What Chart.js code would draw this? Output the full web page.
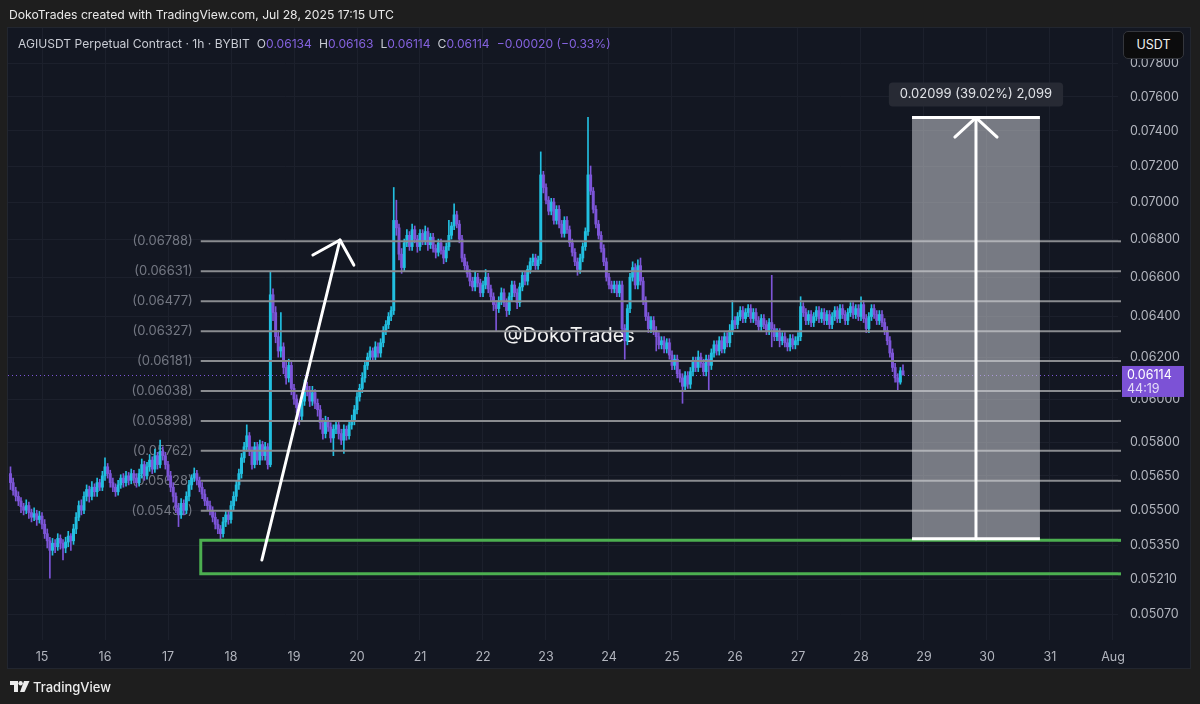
<!DOCTYPE html>
<html>
<head>
<meta charset="utf-8">
<script src="https://cdn.jsdelivr.net/npm/chart.js@4.4.1/dist/chart.umd.min.js"></script>
<style>
  html, body { margin: 0; padding: 0; background: #1e1e1e; }
  body { width: 1200px; height: 704px; position: relative; overflow: hidden; font-family: Inter, "Noto Sans", sans-serif; }
  #chart { position: absolute; left: 0; top: 0; }
  #credit { position: absolute; left: 9px; top: 7px; color: #e8e8e8; font-size: 12.2px; line-height: 16px; white-space: nowrap; }
  #legend { position: absolute; left: 18px; top: 36px; color: #c9ccd4; font-size: 12.1px; line-height: 15px; white-space: nowrap; }
  #legend .v { color: #8462de; }
  #legend .gap { display: inline-block; width: 7px; }
  #unit { position: absolute; left: 1123px; top: 31px; width: 61px; height: 28px; background: #0c0c0d; border: 1px solid #34363c;
          border-radius: 5px; box-sizing: border-box; color: #f0f0f0; font-size: 12.5px; line-height: 26px; text-align: center; }
  #brand { position: absolute; left: 10px; top: 679px; color: #ececec; font-size: 13px; font-weight: 500; line-height: 16px; white-space: nowrap; }
  #brand svg { vertical-align: -1px; margin-right: 3px; }
</style>
</head>
<body>
<canvas id="chart" width="1200" height="704"></canvas>
<div id="credit">DokoTrades created with TradingView.com, Jul 28, 2025 17:15 UTC</div>
<div id="legend"></div>
<div id="unit">USDT</div>
<div id="brand"><svg width="20" height="12" viewBox="0 0 20 12"><path d="M0 0h8v11h-4v-7h-4z" fill="#ececec"/><circle cx="10.6" cy="2.2" r="2.2" fill="#ececec"/><path d="M14 0h5.5l-5 11h-4.5z" fill="#ececec"/></svg>TradingView</div>
<script>
// AGIUSDT, 1h candles from 14 Jul 12:00 UTC, prices in 0.00001 USDT
const pairName = 'AGIUSDT Perpetual Contract';
const interval = '1h';
const exchange = 'BYBIT';
const firstCandleDay = 14.5;

const opens = [
  5660,5620,5585,5560,5540,5515,5500,5520,5490,5470,5485,5460,
  5475,5440,5400,5370,5330,5360,5345,5380,5360,5340,5365,5390,
  5370,5420,5470,5520,5500,5560,5590,5560,5600,5580,5620,5600,
  5650,5690,5660,5620,5600,5580,5610,5640,5620,5650,5630,5660,
  5640,5620,5660,5700,5650,5690,5720,5680,5740,5700,5760,5740,
  5700,5650,5600,5560,5510,5480,5530,5500,5560,5610,5640,5660,
  5630,5600,5570,5540,5520,5500,5470,5440,5420,5400,5450,5480,
  5460,5520,5560,5610,5660,5730,5780,5830,5760,5700,5780,5720,
  5790,5740,5780,5700,6510,6420,6300,6230,6250,6150,6100,6160,
  6050,6000,5960,5920,5990,6060,6040,5990,6030,5980,5950,5890,
  5840,5900,5870,5820,5860,5880,5840,5810,5860,5830,5880,5900,
  5950,6010,6050,6100,6160,6200,6230,6200,6250,6220,6270,6330,
  6360,6400,6430,6900,6860,6720,6650,6780,6820,6760,6850,6800,
  6760,6830,6790,6840,6770,6810,6750,6730,6780,6740,6700,6760,
  6820,6870,6930,6880,6800,6700,6660,6620,6580,6550,6600,6570,
  6520,6560,6600,6540,6500,6460,6440,6480,6520,6470,6430,6500,
  6560,6520,6470,6550,6610,6580,6640,6680,6700,6660,6690,7150,
  7080,7010,6950,7000,6900,6960,6880,6830,6900,6850,6780,6730,
  6680,6640,6700,6760,6840,7150,7060,6960,6880,6820,6750,6680,
  6600,6560,6540,6560,6520,6560,6340,6280,6440,6600,6650,6560,
  6660,6580,6480,6400,6340,6380,6330,6300,6260,6280,6240,6270,
  6210,6160,6190,6120,6100,6060,6110,6070,6130,6180,6150,6200,
  6170,6130,6190,6160,6220,6260,6230,6280,6240,6300,6270,6330,
  6380,6360,6400,6430,6390,6420,6440,6390,6420,6380,6350,6390,
  6360,6330,6370,6340,6300,6320,6280,6300,6270,6250,6290,6260,
  6280,6300,6450,6420,6380,6410,6370,6400,6430,6390,6420,6380,
  6410,6360,6400,6430,6390,6440,6410,6380,6420,6450,6410,6440,
  6400,6460,6390,6340,6400,6440,6410,6380,6410,6370,6330,6280,
  6220,6150,6100,6080,6134
];
const highs = [
  5690,5640,5600,5580,5555,5530,5545,5535,5505,5510,5500,5495,
  5490,5460,5420,5385,5380,5375,5400,5395,5375,5385,5410,5400,
  5440,5490,5540,5545,5580,5610,5605,5625,5615,5640,5635,5670,
  5730,5705,5675,5640,5615,5630,5655,5660,5670,5665,5680,5675,
  5660,5680,5725,5715,5710,5745,5735,5770,5755,5810,5780,5755,
  5715,5670,5620,5575,5530,5550,5545,5580,5630,5655,5685,5675,
  5645,5620,5590,5555,5540,5515,5490,5460,5435,5470,5500,5495,
  5540,5580,5630,5680,5750,5800,5880,5845,5780,5800,5800,5810,
  5805,5800,5795,6630,6540,6450,6330,6420,6270,6180,6190,6180,
  6070,6020,5980,6010,6090,6080,6060,6060,6045,6000,5970,5910,
  5920,5915,5890,5880,5900,5895,5860,5880,5875,5900,5925,5970,
  6030,6070,6125,6180,6220,6250,6245,6275,6270,6290,6350,6380,
  6420,6450,7080,7010,6880,6750,6800,6850,6840,6880,6870,6820,
  6850,6850,6870,6860,6830,6830,6770,6800,6800,6760,6780,6900,
  6890,6990,6950,6900,6820,6720,6680,6640,6600,6630,6620,6590,
  6580,6640,6620,6560,6520,6480,6500,6545,6540,6490,6520,6580,
  6580,6540,6570,6630,6630,6660,6700,6720,6720,6710,7280,7170,
  7100,7030,7020,7020,6980,6980,6900,6920,6920,6870,6800,6750,
  6700,6720,6780,6860,7480,7200,7080,6980,6900,6840,6770,6700,
  6620,6580,6580,6580,6580,6580,6360,6460,6620,6680,6670,6690,
  6700,6600,6500,6420,6400,6400,6350,6320,6300,6300,6290,6290,
  6230,6210,6210,6140,6120,6130,6130,6150,6200,6200,6230,6220,
  6190,6210,6210,6240,6280,6280,6300,6300,6320,6320,6360,6480,
  6400,6420,6450,6450,6440,6460,6460,6440,6440,6400,6410,6410,
  6380,6390,6610,6360,6340,6340,6320,6320,6290,6310,6310,6300,
  6320,6500,6470,6440,6430,6430,6420,6450,6450,6440,6440,6430,
  6430,6420,6450,6450,6460,6460,6430,6440,6470,6470,6460,6460,
  6500,6480,6410,6420,6460,6460,6430,6430,6430,6390,6350,6300,
  6240,6170,6120,6150,6163
];
const lows = [
  5590,5565,5540,5520,5490,5480,5485,5465,5450,5455,5435,5445,
  5420,5380,5340,5215,5310,5320,5330,5335,5290,5320,5345,5330,
  5355,5400,5455,5480,5485,5540,5535,5545,5560,5560,5585,5585,
  5630,5640,5600,5580,5560,5565,5595,5600,5605,5610,5615,5620,
  5600,5605,5640,5630,5635,5670,5660,5665,5680,5685,5720,5680,
  5630,5580,5535,5490,5430,5465,5480,5485,5540,5590,5625,5610,
  5580,5550,5520,5500,5480,5450,5420,5400,5370,5385,5430,5440,
  5445,5500,5540,5590,5640,5710,5760,5740,5680,5685,5700,5700,
  5720,5720,5680,5690,6380,6270,6200,6200,6120,6070,6080,6020,
  5975,5935,5880,5900,5970,6015,5965,5970,5955,5920,5860,5815,
  5820,5850,5800,5740,5840,5815,5790,5750,5810,5815,5860,5880,
  5930,5990,6030,6080,6140,6180,6180,6180,6200,6200,6250,6310,
  6340,6380,6410,6820,6690,6620,6630,6760,6740,6740,6780,6730,
  6740,6770,6770,6740,6750,6730,6700,6710,6720,6670,6680,6740,
  6800,6850,6860,6780,6680,6640,6600,6555,6530,6530,6550,6500,
  6500,6540,6520,6480,6430,6330,6420,6460,6450,6400,6410,6480,
  6500,6440,6450,6530,6560,6560,6620,6660,6640,6640,6670,7050,
  6990,6930,6930,6880,6880,6860,6810,6810,6830,6760,6710,6660,
  6610,6620,6680,6740,6820,7040,6940,6860,6800,6730,6660,6580,
  6540,6520,6520,6500,6500,6320,6190,6260,6420,6580,6540,6540,
  6560,6460,6380,6320,6320,6310,6230,6240,6240,6220,6220,6190,
  6140,6140,6100,6080,5980,6040,6050,6050,6110,6130,6130,6150,
  6110,6110,6040,6140,6200,6210,6210,6220,6220,6250,6250,6310,
  6340,6340,6380,6370,6370,6400,6370,6370,6360,6330,6330,6340,
  6310,6310,6250,6280,6280,6250,6260,6250,6230,6230,6240,6240,
  6260,6280,6400,6360,6360,6350,6350,6380,6370,6370,6360,6360,
  6340,6340,6380,6370,6370,6390,6360,6360,6400,6390,6390,6380,
  6380,6370,6320,6320,6380,6390,6360,6360,6350,6310,6260,6200,
  6130,6080,6040,6070,6114
];
const closes = [
  5620,5585,5560,5540,5515,5500,5520,5490,5470,5485,5460,5475,
  5440,5400,5370,5330,5360,5345,5380,5360,5340,5365,5390,5370,
  5420,5470,5520,5500,5560,5590,5560,5600,5580,5620,5600,5650,
  5690,5660,5620,5600,5580,5610,5640,5620,5650,5630,5660,5640,
  5620,5660,5700,5650,5690,5720,5680,5740,5700,5760,5740,5700,
  5650,5600,5560,5510,5480,5530,5500,5560,5610,5640,5660,5630,
  5600,5570,5540,5520,5500,5470,5440,5420,5400,5450,5480,5460,
  5520,5560,5610,5660,5730,5780,5830,5760,5700,5780,5720,5790,
  5740,5780,5700,6510,6420,6300,6230,6250,6150,6100,6160,6050,
  6000,5960,5920,5990,6060,6040,5990,6030,5980,5950,5890,5840,
  5900,5870,5820,5860,5880,5840,5810,5860,5830,5880,5900,5950,
  6010,6050,6100,6160,6200,6230,6200,6250,6220,6270,6330,6360,
  6400,6430,6900,6860,6720,6650,6780,6820,6760,6850,6800,6760,
  6830,6790,6840,6770,6810,6750,6730,6780,6740,6700,6760,6820,
  6870,6930,6880,6800,6700,6660,6620,6580,6550,6600,6570,6520,
  6560,6600,6540,6500,6460,6440,6480,6520,6470,6430,6500,6560,
  6520,6470,6550,6610,6580,6640,6680,6700,6660,6690,7150,7080,
  7010,6950,7000,6900,6960,6880,6830,6900,6850,6780,6730,6680,
  6640,6700,6760,6840,7150,7060,6960,6880,6820,6750,6680,6600,
  6560,6540,6560,6520,6560,6340,6280,6440,6600,6650,6560,6660,
  6580,6480,6400,6340,6380,6330,6300,6260,6280,6240,6270,6210,
  6160,6190,6120,6100,6060,6110,6070,6130,6180,6150,6200,6170,
  6130,6190,6160,6220,6260,6230,6280,6240,6300,6270,6330,6380,
  6360,6400,6430,6390,6420,6440,6390,6420,6380,6350,6390,6360,
  6330,6370,6340,6300,6320,6280,6300,6270,6250,6290,6260,6280,
  6300,6450,6420,6380,6410,6370,6400,6430,6390,6420,6380,6410,
  6360,6400,6430,6390,6440,6410,6380,6420,6450,6410,6440,6400,
  6460,6390,6340,6400,6440,6410,6380,6410,6370,6330,6280,6220,
  6150,6100,6080,6134,6114
];

// axes
const dayTicks = [15,16,17,18,19,20,21,22,23,24,25,26,27,28,29,30,31,32];
const dayLabels = ['15','16','17','18','19','20','21','22','23','24','25','26','27','28','29','30','31','Aug'];
const viewDays = [14.4603, 32.0794];
const priceTicks = [0.078,0.076,0.074,0.072,0.070,0.068,0.066,0.064,0.062,0.060,0.058,0.0565,0.055,0.0535,0.0521,0.0507];
const viewPrice = [0.04969, 0.08021];

// drawings
const fibLevels = [0.06788,0.06631,0.06477,0.06327,0.06181,0.06038,0.05898,0.05762,0.05628,0.05498];
const fibStartDay = 17.52;
const zoneStartDay = 17.52;
const zoneTop = 0.05372;
const zoneBottom = 0.05233;
const arrowShaft = [{x: 18.49, y: 0.0529}, {x: 19.73, y: 0.06795}];
const arrowHead = [{x: 19.30, y: 0.06716}, {x: 19.73, y: 0.06795}, {x: 19.95, y: 0.06663}];
const projStartDay = 28.81;
const projEndDay = 30.84;
const projMidDay = 29.825;
const projLow = 0.05379;
const projHigh = 0.07478;
const projBarbDays = [29.49, 30.16];
const projBarbPrice = 0.07365;
const watermark = '@DokoTrades';
const watermarkAt = {x: 22.32, y: 0.06303};
const countdown = '44:19';

const UP = '#22bfe0';
const DOWN = '#7d55d8';
const unit = 1e-5;

const last = closes.length - 1;
const fmt = v => (v * unit).toFixed(5);
const minus = s => s.replace('-', '\u2212');

// legend line
const chg = closes[last] - closes[last - 1];
const pct = chg / closes[last - 1] * 100;
document.getElementById('legend').innerHTML =
  `${pairName} · ${interval} · ${exchange}<span class="gap"></span>` +
  `O<span class="v">${fmt(opens[last])}</span><span class="gap"></span>` +
  `H<span class="v">${fmt(highs[last])}</span><span class="gap"></span>` +
  `L<span class="v">${fmt(lows[last])}</span><span class="gap"></span>` +
  `C<span class="v">${fmt(closes[last])}</span><span class="gap"></span>` +
  `<span class="v">${minus((chg * unit).toFixed(5))} (${minus(pct.toFixed(2))}%)</span>`;

const candleX = i => firstCandleDay + i / 24;
const colors = closes.map((c, i) => c >= opens[i] ? UP : DOWN);
const wickData = closes.map((c, i) => ({x: candleX(i), y: [lows[i] * unit, highs[i] * unit]}));
const bodyData = closes.map((c, i) => ({x: candleX(i), y: [opens[i] * unit, c * unit]}));

function seg(ctx, x1, y1, x2, y2) {
  ctx.beginPath();
  ctx.moveTo(x1, y1);
  ctx.lineTo(x2, y2);
  ctx.stroke();
}

function roundRect(ctx, x, y, w, h, r) {
  ctx.beginPath();
  ctx.moveTo(x + r, y);
  ctx.arcTo(x + w, y, x + w, y + h, r);
  ctx.arcTo(x + w, y + h, x, y + h, r);
  ctx.arcTo(x, y + h, x, y, r);
  ctx.arcTo(x, y, x + w, y, r);
  ctx.closePath();
}

// фон панели, подписи уровней, водяной знак
const underlay = {
  id: 'underlay',
  beforeDraw(chart) {
    const ctx = chart.ctx;
    const a = chart.chartArea;
    const right = chart.scales.y.right;
    const bottom = chart.scales.x.bottom;
    ctx.save();
    ctx.fillStyle = '#131722';
    ctx.fillRect(a.left, a.top, right - a.left, bottom - a.top);
    ctx.strokeStyle = '#22262f';
    ctx.lineWidth = 1;
    ctx.strokeRect(a.left - 0.5, a.top - 0.5, right - a.left + 1, bottom - a.top + 1);
    ctx.restore();
  },
  beforeDatasetsDraw(chart) {
    const ctx = chart.ctx;
    const xs = chart.scales.x, ys = chart.scales.y;
    const a = chart.chartArea;
    ctx.save();
    // текущая цена
    const py = Math.round(ys.getPixelForValue(closes[last] * unit)) + 0.5;
    ctx.strokeStyle = '#7d55d8';
    ctx.lineWidth = 1;
    ctx.setLineDash([1, 3]);
    seg(ctx, a.left, py, a.right, py);
    ctx.setLineDash([]);
    // подписи фибо
    ctx.font = '13px Inter, sans-serif';
    ctx.fillStyle = 'rgba(140,144,155,0.8)';
    ctx.textAlign = 'right';
    ctx.textBaseline = 'middle';
    const lx = xs.getPixelForValue(fibStartDay) - 8;
    fibLevels.forEach(l => ctx.fillText(`(${l.toFixed(5)})`, lx, ys.getPixelForValue(l)));
    // водяной знак
    ctx.font = '20px Inter, sans-serif';
    ctx.fillStyle = '#f2f2f2';
    ctx.textAlign = 'left';
    ctx.fillText(watermark, xs.getPixelForValue(watermarkAt.x), ys.getPixelForValue(watermarkAt.y));
    ctx.restore();
  }
};

// целевой прямоугольник и метки на шкале
const overlay = {
  id: 'overlay',
  afterDatasetsDraw(chart) {
    const ctx = chart.ctx;
    const xs = chart.scales.x, ys = chart.scales.y;
    const x0 = xs.getPixelForValue(projStartDay), x1 = xs.getPixelForValue(projEndDay);
    const yTop = ys.getPixelForValue(projHigh), yBot = ys.getPixelForValue(projLow);
    const xm = xs.getPixelForValue(projMidDay);
    ctx.save();
    ctx.fillStyle = 'rgba(210,212,218,0.53)';
    ctx.fillRect(x0, yTop, x1 - x0, yBot - yTop);
    ctx.strokeStyle = '#ffffff';
    ctx.lineWidth = 3;
    seg(ctx, x0, yTop, x1, yTop);
    seg(ctx, x0, yBot, x1, yBot);
    ctx.lineCap = 'round';
    seg(ctx, xm, yBot, xm, yTop);
    const by = ys.getPixelForValue(projBarbPrice);
    seg(ctx, xs.getPixelForValue(projBarbDays[0]), by, xm, yTop);
    seg(ctx, xs.getPixelForValue(projBarbDays[1]), by, xm, yTop);
    // подпись
    const diff = projHigh - projLow;
    const text = `${diff.toFixed(5)} (${(diff / projLow * 100).toFixed(2)}%) ${Math.round(diff / unit).toLocaleString('en-US')}`;
    ctx.font = '13px Inter, sans-serif';
    const w = ctx.measureText(text).width + 22;
    ctx.fillStyle = '#272a34';
    roundRect(ctx, xm - w / 2, yTop - 35, w, 24, 4);
    ctx.fill();
    ctx.fillStyle = '#e1e3e8';
    ctx.textAlign = 'center';
    ctx.textBaseline = 'middle';
    ctx.fillText(text, xm, yTop - 23);
    ctx.restore();
  },
  afterDraw(chart) {
    const ctx = chart.ctx;
    const ys = chart.scales.y;
    const a = chart.chartArea;
    ctx.save();
    // зелёные и серые метки у шкалы
    ctx.lineWidth = 3;
    ctx.strokeStyle = '#4caf50';
    [zoneTop, zoneBottom].forEach(v => seg(ctx, a.right, ys.getPixelForValue(v), a.right + 3, ys.getPixelForValue(v)));
    ctx.lineWidth = 2;
    ctx.strokeStyle = '#8a8c90';
    fibLevels.forEach(v => seg(ctx, a.right, ys.getPixelForValue(v), a.right + 3, ys.getPixelForValue(v)));
    // плашка цены
    const py = ys.getPixelForValue(closes[last] * unit);
    const lx = a.right + 4;
    ctx.fillStyle = '#7c52d6';
    ctx.fillRect(lx, py - 9, 62, 31);
    ctx.fillStyle = '#ffffff';
    ctx.font = '12.5px Inter, sans-serif';
    ctx.textAlign = 'left';
    ctx.textBaseline = 'middle';
    ctx.fillText(fmt(closes[last]), lx + 5, py);
    ctx.fillStyle = '#e4dcf7';
    ctx.fillText(countdown, lx + 5, py + 14);
    ctx.restore();
  }
};

Chart.defaults.font.family = "Inter, 'Noto Sans', sans-serif";

const lineBase = {type: 'line', pointRadius: 0, borderJoinStyle: 'round', tension: 0};
const fibSets = fibLevels.map(l => ({
  ...lineBase,
  data: [{x: fibStartDay, y: l}, {x: viewDays[1], y: l}],
  borderColor: '#8a8c90',
  borderWidth: 2,
  order: 2
}));

const ctx = document.getElementById('chart').getContext('2d');
const chart = new Chart(ctx, {
  type: 'bar',
  data: {
    datasets: [
      {...lineBase, data: arrowShaft, borderColor: '#ffffff', borderWidth: 3, borderCapStyle: 'round', order: 0},
      {...lineBase, data: arrowHead, borderColor: '#ffffff', borderWidth: 3, borderCapStyle: 'round', order: 0},
      {
        ...lineBase,
        data: [{x: viewDays[1], y: zoneTop}, {x: zoneStartDay, y: zoneTop}, {x: zoneStartDay, y: zoneBottom}, {x: viewDays[1], y: zoneBottom}],
        borderColor: '#4caf50', borderWidth: 3, borderJoinStyle: 'miter', order: 1
      },
      ...fibSets,
      {
        type: 'bar', data: bodyData, backgroundColor: colors, barThickness: 2.3, minBarLength: 1,
        grouped: false, borderWidth: 0, order: 3
      },
      {
        type: 'bar', data: wickData, backgroundColor: colors, barThickness: 1,
        grouped: false, borderWidth: 0, order: 4
      }
    ]
  },
  options: {
    responsive: false,
    animation: false,
    events: [],
    devicePixelRatio: 1,
    layout: {padding: {left: 8, top: 28, right: 10, bottom: 36}},
    plugins: {legend: {display: false}, tooltip: {enabled: false}},
    scales: {
      x: {
        type: 'linear',
        min: viewDays[0],
        max: viewDays[1],
        bounds: 'data',
        offset: false,
        grid: {color: '#1c202c', drawTicks: false, offset: false},
        border: {display: false},
        ticks: {
          color: '#b2b5be', font: {size: 12.5}, padding: 10, autoSkip: false, maxRotation: 0,
          callback: v => dayLabels[dayTicks.indexOf(v)]
        },
        afterBuildTicks: s => { s.ticks = dayTicks.map(v => ({value: v})); },
        afterFit: s => { s.height = 28; }
      },
      y: {
        type: 'logarithmic',
        position: 'right',
        min: viewPrice[0],
        max: viewPrice[1],
        bounds: 'data',
        grid: {color: '#1c202c', drawTicks: false},
        border: {display: false},
        ticks: {color: '#b2b5be', font: {size: 12.5}, padding: 12, callback: v => v.toFixed(5)},
        afterBuildTicks: s => { s.ticks = priceTicks.map(v => ({value: v})); },
        afterFit: s => { s.width = 72; }
      }
    }
  },
  plugins: [underlay, overlay]
});
</script>
</body>
</html>
